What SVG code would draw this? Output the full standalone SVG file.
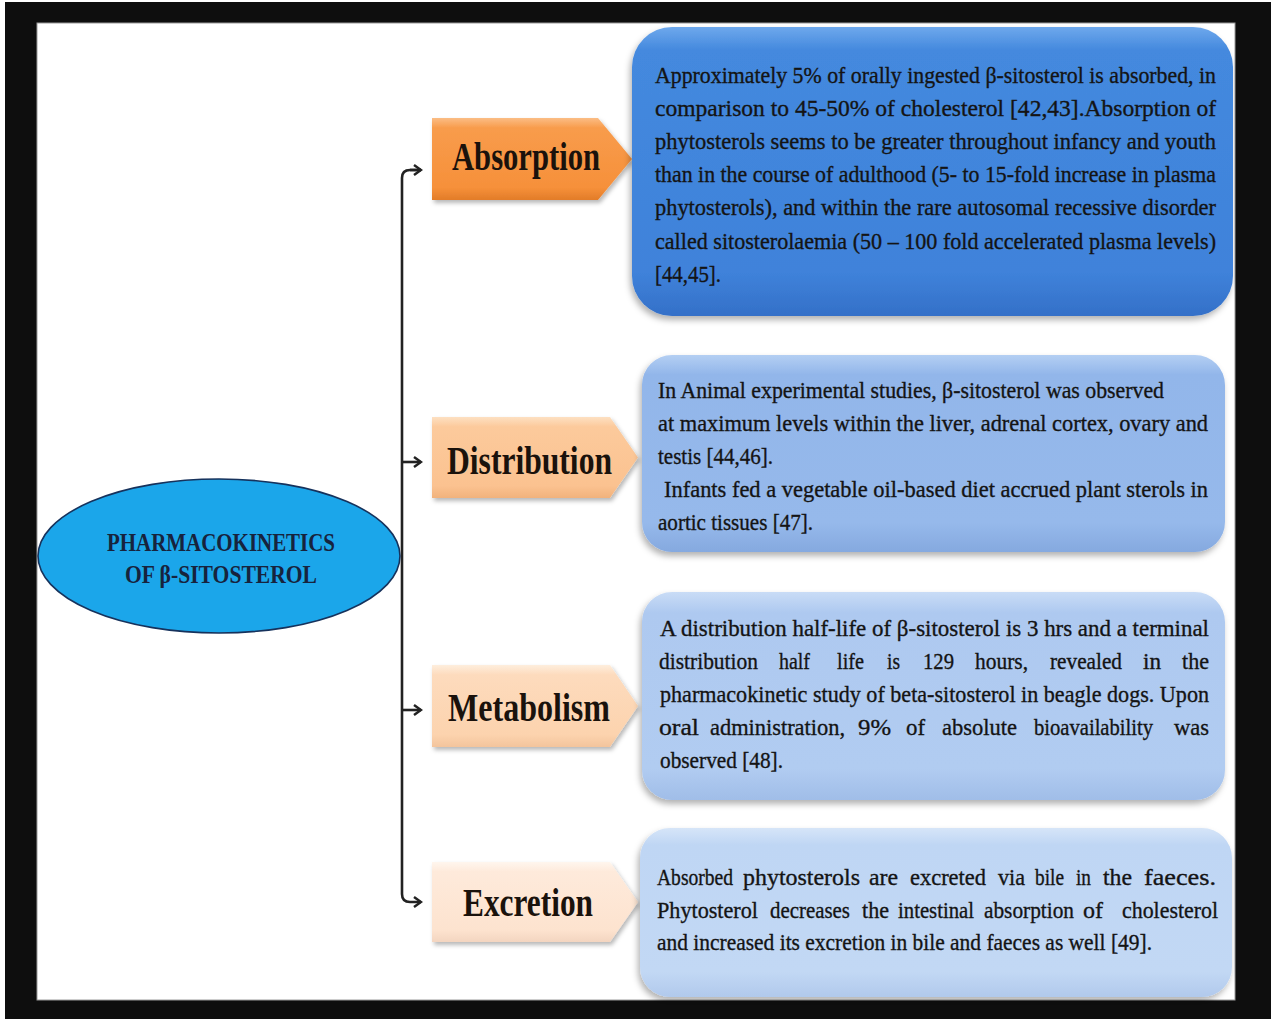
<svg xmlns="http://www.w3.org/2000/svg" width="1271" height="1019" viewBox="0 0 1271 1019">
<style>
.body{font-family:"Liberation Serif","Times New Roman",serif;font-size:24px;fill:#141414;stroke:#141414;stroke-width:0.35}
.lbl{font-family:"Liberation Serif","Times New Roman",serif;font-weight:bold;font-size:40px;fill:#1a120c}
.ttl{font-family:"Liberation Serif","Times New Roman",serif;font-weight:bold;font-size:26px;fill:#17233d}
.conn{fill:none;stroke:#222;stroke-width:2.6}
</style>
<defs>
<marker id="ah" viewBox="0 0 12 14" refX="10" refY="7" markerWidth="12" markerHeight="14" markerUnits="userSpaceOnUse" orient="auto">
<path d="M3,2 L10,7 L3,12" fill="none" stroke="#222" stroke-width="2.5"/>
</marker>
<filter id="sh" x="-10%" y="-10%" width="125%" height="130%">
<feDropShadow dx="-2" dy="4" stdDeviation="3" flood-color="#000" flood-opacity="0.3"/>
</filter>
<filter id="sh2" x="-10%" y="-10%" width="125%" height="130%">
<feDropShadow dx="2" dy="3" stdDeviation="2" flood-color="#000" flood-opacity="0.28"/>
</filter>
<linearGradient id="gA" x1="0" y1="0" x2="0" y2="1">
<stop offset="0" stop-color="#fbbd85"/><stop offset="0.12" stop-color="#f89c4c"/><stop offset="0.85" stop-color="#f6903a"/><stop offset="1" stop-color="#e27c28"/>
</linearGradient>
<linearGradient id="gD" x1="0" y1="0" x2="0" y2="1">
<stop offset="0" stop-color="#fde0c2"/><stop offset="0.12" stop-color="#fcca9c"/><stop offset="0.85" stop-color="#fbc290"/><stop offset="1" stop-color="#f1b27c"/>
</linearGradient>
<linearGradient id="gM" x1="0" y1="0" x2="0" y2="1">
<stop offset="0" stop-color="#feeedd"/><stop offset="0.12" stop-color="#fddbbd"/><stop offset="0.85" stop-color="#fcd3ae"/><stop offset="1" stop-color="#f3c49c"/>
</linearGradient>
<linearGradient id="gE" x1="0" y1="0" x2="0" y2="1">
<stop offset="0" stop-color="#fff6ee"/><stop offset="0.12" stop-color="#feeadb"/><stop offset="0.85" stop-color="#fde3cf"/><stop offset="1" stop-color="#f3d5c0"/>
</linearGradient>
<linearGradient id="b1" x1="0" y1="0" x2="0" y2="1">
<stop offset="0" stop-color="#6ea8ec"/><stop offset="0.08" stop-color="#4489de"/><stop offset="0.85" stop-color="#3f82da"/><stop offset="1" stop-color="#3470c8"/>
</linearGradient>
<linearGradient id="b2" x1="0" y1="0" x2="0" y2="1">
<stop offset="0" stop-color="#b4cff3"/><stop offset="0.1" stop-color="#92b6ea"/><stop offset="0.85" stop-color="#96b9eb"/><stop offset="1" stop-color="#85a9df"/>
</linearGradient>
<linearGradient id="b3" x1="0" y1="0" x2="0" y2="1">
<stop offset="0" stop-color="#c9dcf6"/><stop offset="0.1" stop-color="#aec9f0"/><stop offset="0.85" stop-color="#b1ccf1"/><stop offset="1" stop-color="#a0bde8"/>
</linearGradient>
<linearGradient id="b4" x1="0" y1="0" x2="0" y2="1">
<stop offset="0" stop-color="#d6e5f8"/><stop offset="0.1" stop-color="#bfd6f4"/><stop offset="0.85" stop-color="#c2d8f4"/><stop offset="1" stop-color="#b1c9ec"/>
</linearGradient>
</defs>

<rect x="0" y="0" width="1271" height="1019" fill="#ffffff"/>
<rect x="5" y="2" width="1266" height="1017" fill="#0e0e0e"/>
<rect x="37" y="23" width="1198" height="977" fill="#ffffff" stroke="#9a9a9a" stroke-width="1"/>

<g id="connectors">
<path class="conn" d="M402,462 H421" marker-end="url(#ah)"/>
<path class="conn" d="M402,710 H421" marker-end="url(#ah)"/>
<path class="conn" d="M421,170 H410 Q402,170 402,178 V894 Q402,902 410,902 H421" marker-end="url(#ah)"/>
<path class="conn" d="M410,170 H421" marker-end="url(#ah)"/>
</g>

<g id="root">
<ellipse cx="219" cy="556" rx="181" ry="77" fill="#1ba6ea" stroke="#16325c" stroke-width="1.6"/>
<text class="ttl" x="107" y="551" textLength="228" lengthAdjust="spacingAndGlyphs">PHARMACOKINETICS</text>
<text class="ttl" x="125" y="583" textLength="192" lengthAdjust="spacingAndGlyphs">OF  β-SITOSTEROL</text>
</g>

<g id="absorption">
<polygon points="432,118 598,118 632,159 598,200 432,200" fill="url(#gA)" filter="url(#sh2)"/>
<text class="lbl" x="452" y="170" textLength="148" lengthAdjust="spacingAndGlyphs">Absorption</text>
</g>
<g id="distribution">
<polygon points="432,417 610,417 638,457.5 610,498 432,498" fill="url(#gD)" filter="url(#sh2)"/>
<text class="lbl" x="447" y="474" textLength="165" lengthAdjust="spacingAndGlyphs">Distribution</text>
</g>
<g id="metabolism">
<polygon points="432,665 610,665 638,706 610,747 432,747" fill="url(#gM)" filter="url(#sh2)"/>
<text class="lbl" x="448" y="721" textLength="162" lengthAdjust="spacingAndGlyphs">Metabolism</text>
</g>
<g id="excretion">
<polygon points="432,862 610,862 638,902 610,942 432,942" fill="url(#gE)" filter="url(#sh2)"/>
<text class="lbl" x="463" y="916" textLength="130" lengthAdjust="spacingAndGlyphs">Excretion</text>
</g>

<g id="absorption-text">
<rect x="632" y="27" width="601" height="289" rx="40" fill="url(#b1)" filter="url(#sh)"/>
<text class="body" x="655" y="83" textLength="561" lengthAdjust="spacingAndGlyphs">Approximately 5% of orally ingested β-sitosterol is absorbed, in</text>
<text class="body" x="655" y="116" textLength="561" lengthAdjust="spacingAndGlyphs">comparison  to  45-50%  of  cholesterol  [42,43].Absorption  of</text>
<text class="body" x="655" y="149" textLength="561" lengthAdjust="spacingAndGlyphs">phytosterols seems to be greater throughout infancy and youth</text>
<text class="body" x="655" y="182" textLength="561" lengthAdjust="spacingAndGlyphs">than in the course of adulthood (5- to 15-fold increase in plasma</text>
<text class="body" x="655" y="215" textLength="561" lengthAdjust="spacingAndGlyphs">phytosterols), and within the rare autosomal recessive disorder</text>
<text class="body" x="655" y="249" textLength="561" lengthAdjust="spacingAndGlyphs">called sitosterolaemia (50 – 100 fold accelerated plasma levels)</text>
<text class="body" x="655" y="282" textLength="66" lengthAdjust="spacingAndGlyphs">[44,45].</text>
</g>

<g id="distribution-text">
<rect x="642" y="355" width="583" height="197" rx="30" fill="url(#b2)" filter="url(#sh)"/>
<text class="body" x="658" y="398" textLength="506" lengthAdjust="spacingAndGlyphs">In Animal experimental studies, β-sitosterol was  observed</text>
<text class="body" x="658" y="431" textLength="550" lengthAdjust="spacingAndGlyphs">at maximum levels within the liver, adrenal cortex, ovary and</text>
<text class="body" x="658" y="464" textLength="115" lengthAdjust="spacingAndGlyphs">testis [44,46].</text>
<text class="body" x="664" y="497" textLength="544" lengthAdjust="spacingAndGlyphs">Infants fed a vegetable oil-based diet accrued plant sterols in</text>
<text class="body" x="658" y="530" textLength="155" lengthAdjust="spacingAndGlyphs">aortic tissues [47].</text>
</g>

<g id="metabolism-text">
<rect x="642" y="592" width="583" height="208" rx="30" fill="url(#b3)" filter="url(#sh)"/>
<text class="body" x="660" y="636" textLength="549" lengthAdjust="spacingAndGlyphs">A distribution half-life of β-sitosterol is 3 hrs and a terminal</text>
<g>
<text class="body" x="659" y="669" textLength="99" lengthAdjust="spacingAndGlyphs">distribution</text>
<text class="body" x="779" y="669" textLength="31" lengthAdjust="spacingAndGlyphs">half</text>
<text class="body" x="837" y="669" textLength="27" lengthAdjust="spacingAndGlyphs">life</text>
<text class="body" x="887" y="669" textLength="13" lengthAdjust="spacingAndGlyphs">is</text>
<text class="body" x="923" y="669" textLength="31" lengthAdjust="spacingAndGlyphs">129</text>
<text class="body" x="975" y="669" textLength="53" lengthAdjust="spacingAndGlyphs">hours,</text>
<text class="body" x="1050" y="669" textLength="72" lengthAdjust="spacingAndGlyphs">revealed</text>
<text class="body" x="1143" y="669" textLength="18" lengthAdjust="spacingAndGlyphs">in</text>
<text class="body" x="1182" y="669" textLength="27" lengthAdjust="spacingAndGlyphs">the</text>
</g>
<text class="body" x="660" y="702" textLength="549" lengthAdjust="spacingAndGlyphs">pharmacokinetic study of beta-sitosterol in beagle dogs. Upon</text>
<g>
<text class="body" x="659" y="735" textLength="40" lengthAdjust="spacingAndGlyphs">oral</text>
<text class="body" x="710" y="735" textLength="135" lengthAdjust="spacingAndGlyphs">administration,</text>
<text class="body" x="858" y="735" textLength="33" lengthAdjust="spacingAndGlyphs">9%</text>
<text class="body" x="906" y="735" textLength="19" lengthAdjust="spacingAndGlyphs">of</text>
<text class="body" x="942" y="735" textLength="75" lengthAdjust="spacingAndGlyphs">absolute</text>
<text class="body" x="1034" y="735" textLength="119" lengthAdjust="spacingAndGlyphs">bioavailability</text>
<text class="body" x="1174" y="735" textLength="35" lengthAdjust="spacingAndGlyphs">was</text>
</g>
<text class="body" x="660" y="768" textLength="123" lengthAdjust="spacingAndGlyphs">observed [48].</text>
</g>

<g id="excretion-text">
<rect x="640" y="828" width="592" height="169" rx="30" fill="url(#b4)" filter="url(#sh)"/>
<g>
<text class="body" x="657" y="885" textLength="76" lengthAdjust="spacingAndGlyphs">Absorbed</text>
<text class="body" x="743" y="885" textLength="117" lengthAdjust="spacingAndGlyphs">phytosterols</text>
<text class="body" x="869" y="885" textLength="29" lengthAdjust="spacingAndGlyphs">are</text>
<text class="body" x="910" y="885" textLength="76" lengthAdjust="spacingAndGlyphs">excreted</text>
<text class="body" x="998" y="885" textLength="27" lengthAdjust="spacingAndGlyphs">via</text>
<text class="body" x="1035" y="885" textLength="29" lengthAdjust="spacingAndGlyphs">bile</text>
<text class="body" x="1076" y="885" textLength="15" lengthAdjust="spacingAndGlyphs">in</text>
<text class="body" x="1103" y="885" textLength="29" lengthAdjust="spacingAndGlyphs">the</text>
<text class="body" x="1144" y="885" textLength="72" lengthAdjust="spacingAndGlyphs">faeces.</text>
</g>
<g>
<text class="body" x="657" y="918" textLength="101" lengthAdjust="spacingAndGlyphs">Phytosterol</text>
<text class="body" x="770" y="918" textLength="80" lengthAdjust="spacingAndGlyphs">decreases</text>
<text class="body" x="862" y="918" textLength="27" lengthAdjust="spacingAndGlyphs">the</text>
<text class="body" x="898" y="918" textLength="76" lengthAdjust="spacingAndGlyphs">intestinal</text>
<text class="body" x="984" y="918" textLength="90" lengthAdjust="spacingAndGlyphs">absorption</text>
<text class="body" x="1083" y="918" textLength="20" lengthAdjust="spacingAndGlyphs">of</text>
<text class="body" x="1122" y="918" textLength="96" lengthAdjust="spacingAndGlyphs">cholesterol</text>
</g>
<text class="body" x="657" y="950" textLength="495" lengthAdjust="spacingAndGlyphs">and increased its excretion in bile and faeces as well [49].</text>
</g>
</svg>
